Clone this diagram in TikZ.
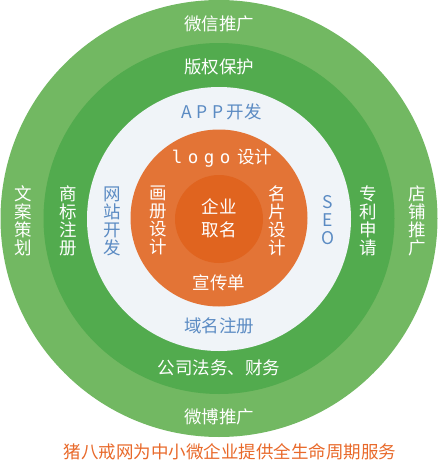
\documentclass[tikz,border=0pt]{standalone}
\usepackage{fontspec}
\setmainfont{Noto Sans CJK SC}
\newfontfamily\monof{DejaVu Sans Mono}
\definecolor{gOuter}{HTML}{72B862}
\definecolor{gInner}{HTML}{52AB4E}
\definecolor{lightRing}{HTML}{F0F4F8}
\definecolor{orRing}{HTML}{E37436}
\definecolor{orCore}{HTML}{E0641F}
\definecolor{blueTxt}{HTML}{5B8BC3}
\definecolor{orTxt}{HTML}{E8692A}
\newcommand{\lb}[2]{\makebox[#1][c]{#2}}
\begin{document}
\begin{tikzpicture}[x=1pt,y=-1pt,
  lbl/.style={inner sep=0pt,font=\fontsize{17.5}{18}\selectfont,align=center},
  wlbl/.style={lbl,text=white},
  blbl/.style={lbl,text=blueTxt}]
\useasboundingbox (0,0) rectangle (438,466);
\fill[gOuter] (219,218.5) circle (218.5);
\fill[gInner] (219,218.5) circle (175.5);
\fill[lightRing] (219,219) circle (132);
\fill[orRing] (219,218) circle (88.5);
\fill[orCore] (219,219) circle (44);
% outer ring
\node[wlbl] (wx) at (219,24) {微信推广};
\node[wlbl] (wb) at (219,417) {微博推广};
\node[wlbl] (wa) at (23,221) {文\\案\\策\\划};
\node[wlbl] (dp) at (417,221) {店\\铺\\推\\广};
% second ring
\node[wlbl] (bq) at (219,67) {版权保护};
\node[wlbl] (gs) at (219,368) {公司法务、财务};
\node[wlbl] (sb) at (68,221) {商\\标\\注\\册};
\node[wlbl] (zl) at (368,221) {专\\利\\申\\请};
% light ring
\node[blbl,anchor=west] (app) at (179,112) {\lb{15.5pt}{A}\lb{15.5pt}{P}\lb{15.5pt}{P}\hspace{1pt}开发};
\node[blbl] (ym) at (219,326) {域名注册};
\node[blbl] (wz) at (112,221) {网\\站\\开\\发};
\node[blbl] (seo) at (328,220) {S\\E\\O};
% orange ring
\node[wlbl,anchor=west] (logo) at (169,158) {{\monof\lb{16pt}{l}\lb{16pt}{o}\lb{16pt}{g}\lb{16pt}{o}}\hspace{4pt}设计};
\node[wlbl] (xc) at (219,283) {宣传单};
\node[wlbl] (hc) at (158,220) {画\\册\\设\\计};
\node[wlbl] (mp) at (277,221) {名\\片\\设\\计};
% core
\node[wlbl,font=\fontsize{17.5}{23}\selectfont] (qy) at (219,218.5) {企业\\取名};
% caption
\node[lbl,text=orTxt,font=\fontsize{17.5}{18}\selectfont] (cap) at (230,452) {猪八戒网为中小微企业提供全生命周期服务};
\end{tikzpicture}
\end{document}
